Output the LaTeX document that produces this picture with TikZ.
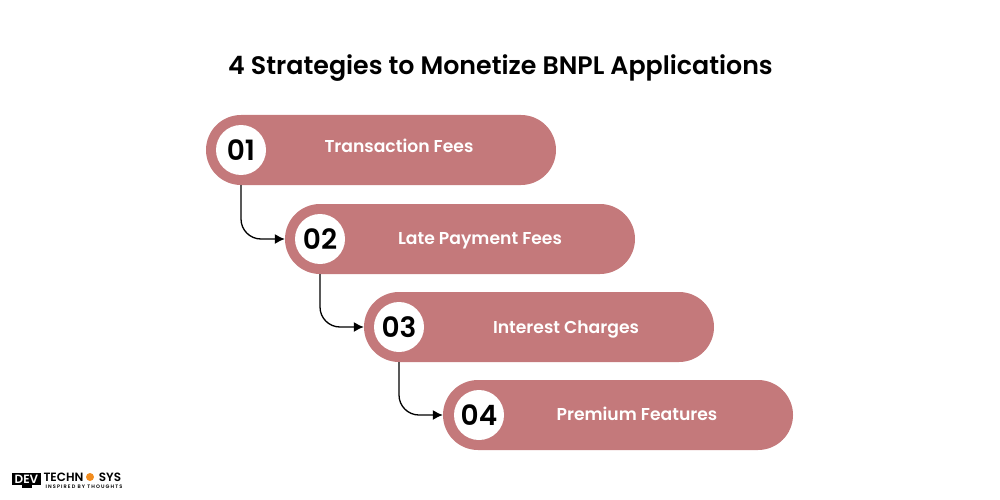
\documentclass[tikz,border=0pt]{standalone}
\usepackage{fontspec}
\setmainfont{Poppins}[BoldFont={Poppins SemiBold}]
\usetikzlibrary{arrows.meta}
\definecolor{pillcol}{HTML}{C4797B}
\definecolor{gearcol}{HTML}{F28C1E}
\tikzset{
  pill/.style={fill=pillcol, rounded corners=35pt, minimum width=350pt, minimum height=70pt, inner sep=0pt},
  numdisc/.style={circle, fill=white, minimum size=50pt, inner sep=0pt, font=\fontsize{28}{30}\selectfont\bfseries},
  pilltext/.style={text=white, inner sep=0pt, font=\fontsize{17.2}{22}\selectfont\bfseries},
  logotext/.style={inner sep=0pt, font=\fontsize{12}{13}\selectfont\bfseries},
  link/.style={-{Latex[length=10pt,width=10pt]}, line width=1.3pt, rounded corners=20pt}
}
\begin{document}
\begin{tikzpicture}[x=1pt,y=-1pt]
\useasboundingbox (0,0) rectangle (1000,500);
\node (title) at (500.5,68) [inner sep=0pt, font=\fontsize{25.3}{30}\selectfont\bfseries] {4 Strategies to Monetize BNPL Applications};
\node (pill1) at (381,150) [pill] {};
\node (pill2) at (460,239) [pill] {};
\node (pill3) at (539,327) [pill] {};
\node (pill4) at (618,415) [pill] {};
\node (num1) at (241,150) [numdisc] {01};
\node (num2) at (320,239) [numdisc] {02};
\node (num3) at (399,327) [numdisc] {03};
\node (num4) at (479,415) [numdisc] {04};
\node (lab1) at (399,146) [pilltext] {Transaction Fees};
\node (lab2) at (480,241) [pilltext] {Late Payment Fees};
\node (lab3) at (566,329) [pilltext] {Interest Charges};
\node (lab4) at (637,414) [pilltext] {Premium Features};
\draw [link] (num1 |- pill1.south) |- (pill2.west);
\draw [link] (num2 |- pill2.south) |- (pill3.west);
\draw [link] (num3 |- pill3.south) |- (pill4.west);
% logo
\node (devbox) at (26.5,479) [fill=black, text=white, minimum width=29pt, minimum height=12pt, inner sep=0pt, font=\fontsize{12}{12}\selectfont\bfseries] {DEV};
\fill[black] (22,485) rectangle (32,488);
\node (techn) at (63.5,477) [logotext] {TECHN};
\node (gear) at (90,477) [circle, fill=gearcol, minimum size=8pt, inner sep=0pt] {};
\node (sys) at (110,477) [logotext] {SYS};
\node (tagline) at (84,486.5) [inner sep=0pt, font=\fontsize{5}{5}\selectfont\bfseries\addfontfeature{LetterSpace=22}] {INSPIRED BY THOUGHTS};
\end{tikzpicture}
\end{document}
